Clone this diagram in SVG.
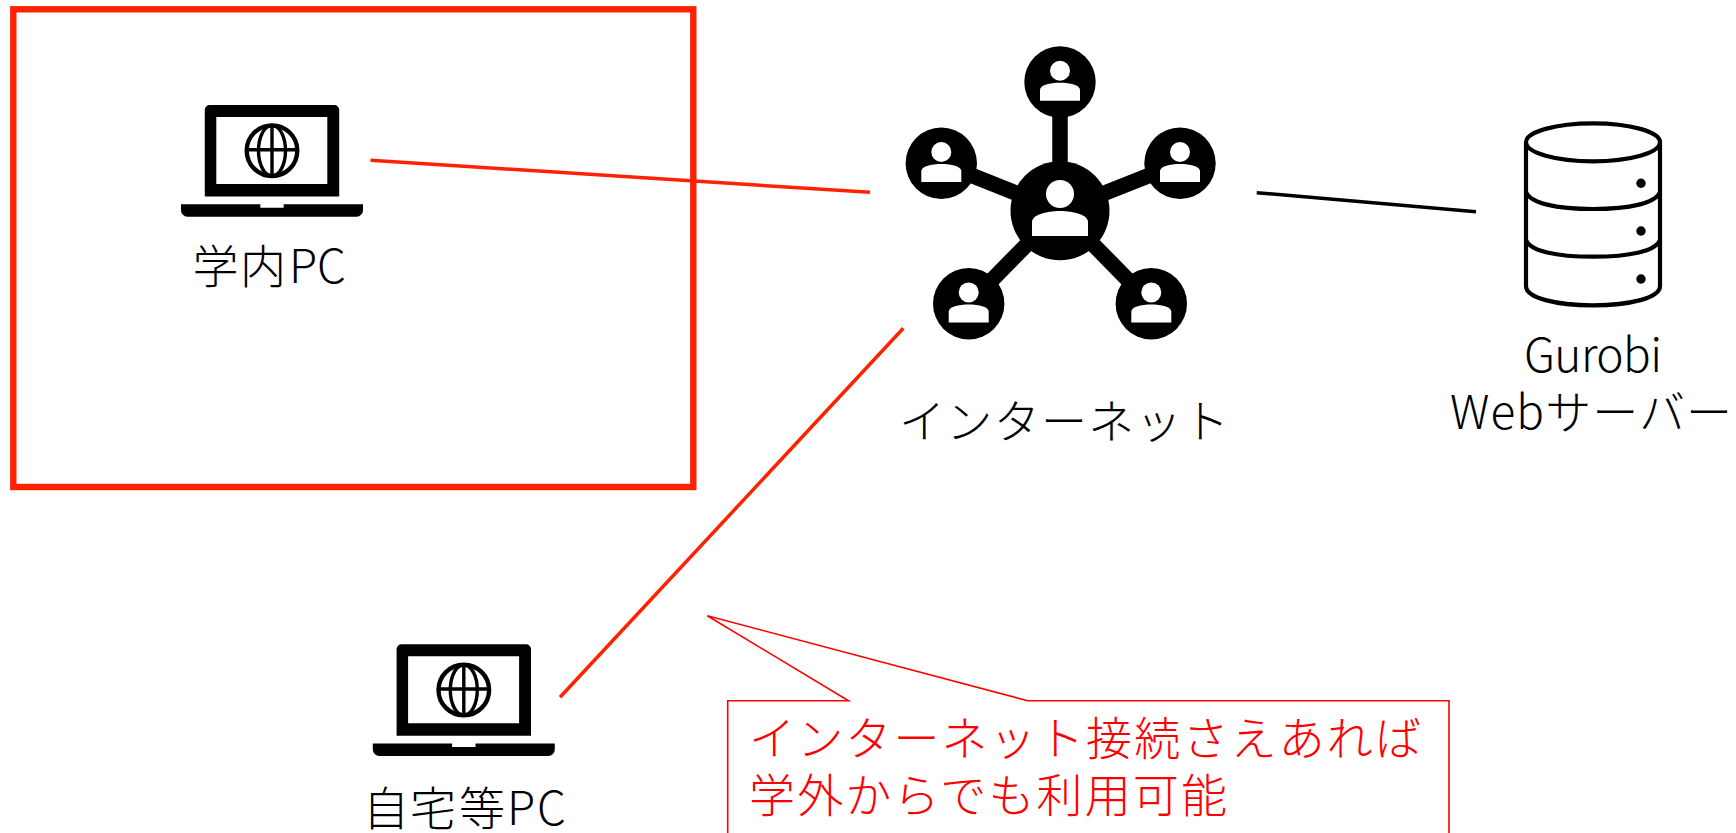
<svg xmlns="http://www.w3.org/2000/svg" xmlns:xlink="http://www.w3.org/1999/xlink" width="1736" height="833" viewBox="0 0 1736 833">
<style>
text{font-family:"Noto Sans CJK JP","Noto Sans",sans-serif;font-weight:200;font-size:46px;fill:#000}
.red{fill:#ff0000}
.conn{fill:none;stroke-width:3.5}
.r{stroke:#ff2200}
.k{stroke:#000}
.link{stroke:#000;stroke-width:15.5}
</style>
<defs>
<g id="laptop">
<path fill-rule="evenodd" d="M-62.2,-45.7H62.2a5,5 0 0 1 5,5V45.7H-67.2V-40.7a5,5 0 0 1 5,-5ZM-55.7,-33.7V33.3H55.3V-33.7Z"/>
<path d="M-91,53.5H-11.7V57H11.7V53.5H91V59.5a6.5,6.5 0 0 1 -6.5,6.5H-84.5a6.5,6.5 0 0 1 -6.5,-6.5Z"/>
<g fill="none" stroke="#000">
<circle r="25.3" stroke-width="4.4"/>
<ellipse rx="13.5" ry="25.3" stroke-width="3.4"/>
<path d="M0,-25.3V25.3M-25.3,-1H25.3" stroke-width="3.4"/>
</g>
</g>
<g id="person">
<circle cx="0" cy="-11.3" r="10" fill="#fff"/>
<path d="M-20,18.7V8C-20,3 -10,0.7 0,0.7C10,0.7 20,3 20,8V18.7Z" fill="#fff"/>
</g>
<g id="user"><circle r="35.7" fill="#000"/><use xlink:href="#person" href="#person"/></g>
</defs>
<rect width="1736" height="833" fill="#fff"/>
<g id="campus-zone"><rect x="13.3" y="9.3" width="680" height="477.7" fill="none" stroke="#ff2200" stroke-width="6.4"/></g>
<g id="connectors">
<line class="conn r" x1="370.5" y1="160.3" x2="870" y2="192.3"/>
<line class="conn r" x1="903.3" y1="328.3" x2="560" y2="697.3"/>
<line class="conn k" x1="1256.7" y1="192.7" x2="1476" y2="211.7"/>
</g>
<g id="campus-pc">
<use xlink:href="#laptop" href="#laptop" x="272" y="150.7"/>
<text x="192.5 240 289 317" y="283">学内PC</text>
</g>
<g id="home-pc">
<use xlink:href="#laptop" href="#laptop" x="463.8" y="690"/>
<text x="363 410 459 507 537" y="825">自宅等PC</text>
</g>
<g id="internet">
<g class="link"><line x1="1060" y1="82" x2="1060" y2="210.7"/><line x1="941.3" y1="163.3" x2="1060" y2="210.7"/><line x1="1180" y1="163.3" x2="1060" y2="210.7"/><line x1="968.7" y1="303.7" x2="1060" y2="210.7"/><line x1="1151.3" y1="303.7" x2="1060" y2="210.7"/></g>
<circle cx="1060" cy="210.7" r="49.5"/>
<circle cx="1060" cy="194" r="14" fill="#fff"/>
<path d="M1032,236V222C1032,215 1046,211 1060,211C1074,211 1088,215 1088,222V236Z" fill="#fff"/>
<use xlink:href="#user" href="#user" x="1060" y="82"/>
<use xlink:href="#user" href="#user" x="941.3" y="163.3"/>
<use xlink:href="#user" href="#user" x="1180" y="163.3"/>
<use xlink:href="#user" href="#user" x="968.7" y="303.7"/>
<use xlink:href="#user" href="#user" x="1151.3" y="303.7"/>
<text x="899" y="438" textLength="330">インターネット</text>
</g>
<g id="gurobi-server">
<g fill="none" stroke="#000" stroke-width="4.2">
<ellipse cx="1593" cy="142.3" rx="67" ry="19"/>
<path d="M1526,142.3V286C1526,298 1556,305.3 1593,305.3C1630,305.3 1660,298 1660,286V142.3"/>
<path d="M1526,192C1530,203 1556,209 1593,209C1630,209 1656,203 1660,192"/>
<path d="M1526,240C1530,251 1556,256.7 1593,256.7C1630,256.7 1656,251 1660,240"/>
</g>
<circle cx="1641" cy="183.3" r="4.7"/><circle cx="1641" cy="231" r="4.7"/><circle cx="1641" cy="279" r="4.7"/>
<text x="1524" y="371.7" textLength="138">Gurobi</text>
<text x="1450" y="429.3" textLength="282">Webサーバー</text>
</g>
<g id="callout">
<path d="M727.7,834V700.7H848.5L707.3,615.7L1027.5,700.7H1449V834" fill="none" stroke="#ff0000" stroke-width="1.6"/>
<text class="red" x="749" y="755" textLength="672">インターネット接続さえあれば</text>
<text class="red" x="749" y="812" textLength="478">学外からでも利用可能</text>
</g>
</svg>
